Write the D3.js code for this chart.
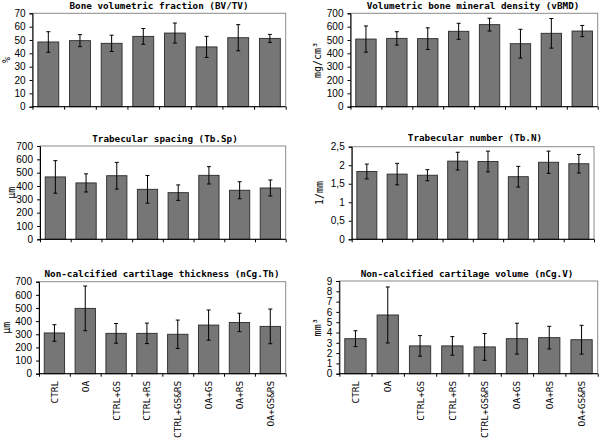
<!DOCTYPE html>
<html>
<head>
<meta charset="utf-8">
<script src="https://cdn.jsdelivr.net/npm/d3@7"></script>
<style>
  body { margin: 0; background: #fff; }
  svg { display: block; font-family: "DejaVu Sans Mono", monospace; }
  .title { font-weight: bold; font-size: 9.3px; }
  .tick text { font-size: 10px; fill: #000; }
  .ylab { font-size: 10px; }
</style>
</head>
<body>
<div id="vis"></div>
<script>
// groups shared by all six panels
const groups = ["CTRL", "OA", "CTRL+GS", "CTRL+RS", "CTRL+GS&RS", "OA+GS", "OA+RS", "OA+GS&RS"];

// mean values and error (sd)
const bvtv = [48.5, 49.5, 47.5, 52.7, 55.2, 44.8, 51.7, 51.2];
const bvtvErr = [7.7, 4.5, 6.1, 5.9, 7.5, 7.9, 9.8, 3.0];

const vbmd = [507, 512, 510, 565, 615, 472, 550, 567];
const vbmdErr = [98, 50, 81, 60, 48, 108, 111, 42];

const tbsp = [468, 423, 477, 375, 350, 480, 368, 385];
const tbspErr = [122, 68, 100, 104, 58, 65, 64, 60];

const tbn = [1.83, 1.76, 1.73, 2.11, 2.10, 1.69, 2.08, 2.04];
const tbnErr = [0.2, 0.29, 0.15, 0.24, 0.28, 0.28, 0.3, 0.25];

const ncgth = [310, 497, 307, 307, 300, 370, 390, 360];
const ncgthErr = [63, 170, 75, 78, 108, 115, 70, 132];

const ncgv = [3.4, 5.7, 2.7, 2.7, 2.6, 3.4, 3.5, 3.3];
const ncgvErr = [0.77, 2.72, 1.0, 0.9, 1.3, 1.5, 1.1, 1.4];

const titles = [
  "Bone volumetric fraction (BV/TV)",
  "Volumetric bone mineral density (vBMD)",
  "Trabecular spacing (Tb.Sp)",
  "Trabecular number (Tb.N)",
  "Non-calcified cartilage thickness (nCg.Th)",
  "Non-calcified cartilage volume (nCg.V)"
];
const units = ["%", "mg/cm³", "µm", "1/mm", "µm", "mm³"];
const yMax = [70, 700, 700, 2.5, 700, 9];
const yStep = [10, 100, 100, 0.5, 100, 1];

// panel frames in page pixels
const frames = [
  { l: 32.5, r: 285.7, t: 13.3, b: 106.7, ux: 7, tx: 159, ty: 8.5 },
  { l: 350.5, r: 597.7, t: 13.3, b: 106.7, ux: 318, tx: 473, ty: 8.5 },
  { l: 40, r: 285.7, t: 146, b: 239.3, ux: 12, tx: 165, ty: 141.5 },
  { l: 351.7, r: 594, t: 146.7, b: 239.3, ux: 320, tx: 475, ty: 140.5 },
  { l: 39, r: 285.7, t: 281.7, b: 373.7, ux: 7, tx: 162, ty: 276.5 },
  { l: 339.3, r: 597.7, t: 281, b: 373.7, ux: 318, tx: 467, ty: 276.5 }
];

const panels = [
  [bvtv, bvtvErr], [vbmd, vbmdErr], [tbsp, tbspErr],
  [tbn, tbnErr], [ncgth, ncgthErr], [ncgv, ncgvErr]
];

const svg = d3.select("#vis").append("svg")
  .attr("width", 600).attr("height", 438);

const fmtComma = d3.format(",");

panels.forEach(([vals, errs], i) => {
  const f = frames[i];
  const g = svg.append("g");

  const x = d3.scaleBand().domain(groups).range([f.l, f.r]).paddingInner(0.34).paddingOuter(0.17);
  const xb = d3.scaleLinear().domain([0, groups.length]).range([f.l, f.r]);
  const y = d3.scaleLinear().domain([0, yMax[i]]).range([f.b, f.t]);

  // plot area border
  g.append("rect")
    .attr("x", f.l).attr("y", f.t)
    .attr("width", f.r - f.l).attr("height", f.b - f.t)
    .attr("fill", "none").attr("stroke", "#8a8a8a").attr("stroke-width", 1);

  // bars
  g.selectAll(".bar").data(vals).join("rect")
    .attr("x", (d, j) => x(groups[j]))
    .attr("y", d => y(d))
    .attr("width", x.bandwidth())
    .attr("height", d => y(0) - y(d))
    .attr("fill", "#767676")
    .attr("stroke", "#2a2a2a")
    .attr("stroke-width", 0.9);

  // error bars
  const eb = g.selectAll(".err").data(vals).join("g");
  const cx = (j) => x(groups[j]) + x.bandwidth() / 2;
  eb.append("line")
    .attr("x1", (d, j) => cx(j)).attr("x2", (d, j) => cx(j))
    .attr("y1", (d, j) => y(d + errs[j])).attr("y2", (d, j) => y(Math.max(0, d - errs[j])))
    .attr("stroke", "#000").attr("stroke-width", 1);
  [1, -1].forEach(s => {
    eb.append("line")
      .attr("x1", (d, j) => cx(j) - 2).attr("x2", (d, j) => cx(j) + 2)
      .attr("y1", (d, j) => y(d + s * errs[j])).attr("y2", (d, j) => y(d + s * errs[j]))
      .attr("stroke", "#000").attr("stroke-width", 1);
  });

  // y axis
  const ticks = d3.range(0, yMax[i] + yStep[i] / 2, yStep[i]);
  const yAxis = g.append("g")
    .attr("transform", `translate(${f.l},0)`)
    .call(d3.axisLeft(y).tickValues(ticks).tickSize(3).tickPadding(4)
      .tickFormat(d => i === 3 ? d3.format("")(+d.toFixed(1)).replace(".", ",") : fmtComma(d)));
  yAxis.select(".domain").attr("stroke", "#000");
  yAxis.selectAll(".tick line").attr("stroke", "#000");

  // x axis with ticks at category boundaries
  const xAxis = g.append("g")
    .attr("transform", `translate(0,${f.b})`)
    .call(d3.axisBottom(xb).tickValues(d3.range(0, groups.length + 1)).tickSize(3).tickFormat(""));
  xAxis.select(".domain").attr("stroke", "#000").attr("d", `M${f.l},0H${f.r}`);
  xAxis.selectAll(".tick line").attr("stroke", "#000");

  // category labels only on the bottom row
  if (i >= 4) {
    g.selectAll(".cat").data(groups).join("text")
      .attr("transform", d => `translate(${x(d) + x.bandwidth() / 2 + 3.5},${f.b + 7}) rotate(-90)`)
      .attr("text-anchor", "end")
      .attr("font-size", "9.5px")
      .text(d => d);
  }

  // title
  g.append("text").attr("class", "title")
    .attr("x", f.tx).attr("y", f.ty)
    .attr("text-anchor", "middle")
    .text(titles[i]);

  // unit label
  g.append("text").attr("class", "ylab")
    .attr("transform", `translate(${f.ux + 3},${(f.t + f.b) / 2}) rotate(-90)`)
    .attr("text-anchor", "middle")
    .text(units[i]);
});
</script>
</body>
</html>
